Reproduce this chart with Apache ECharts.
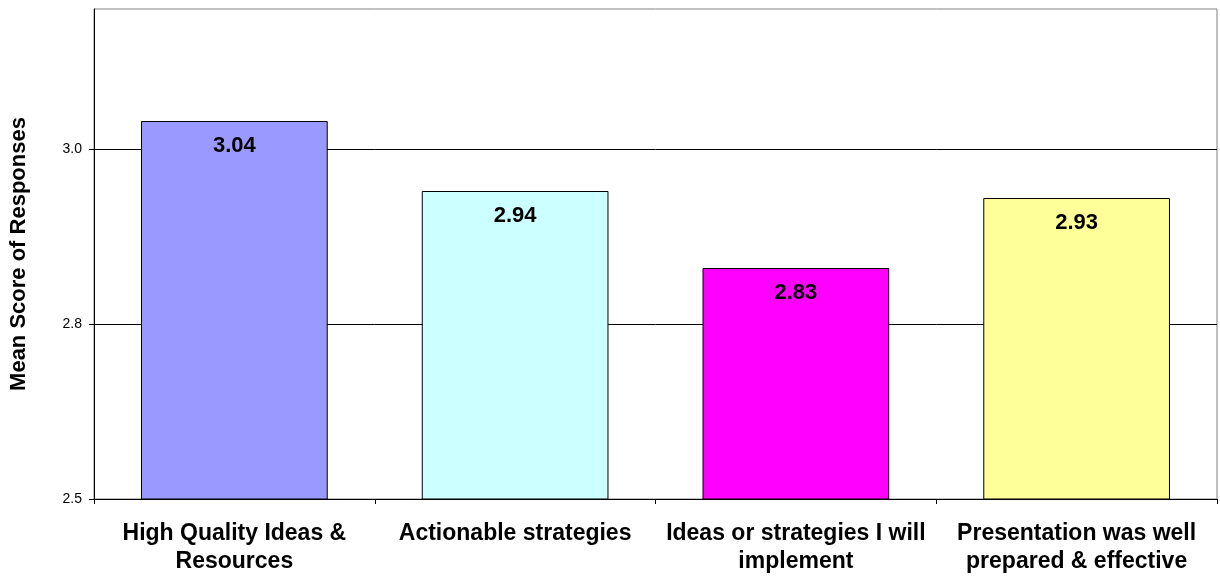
<!DOCTYPE html>
<html>
<head>
<meta charset="utf-8">
<script src="https://cdn.jsdelivr.net/npm/echarts@6/dist/echarts.min.js"></script>
<style>
  html, body { margin: 0; padding: 0; background: #fff; }
  #chart { width: 1220px; height: 576px; }
</style>
</head>
<body>
<div id="chart"></div>
<script>
// Survey items (line breaks set where the labels wrap)
const categories = [
  'High Quality Ideas &\nResources',
  'Actionable strategies',
  'Ideas or strategies I will\nimplement',
  'Presentation was well\nprepared & effective'
];
// Mean score per item
const meanScores = [3.04, 2.94, 2.83, 2.93];
const barColors = ['#9999FF', '#CCFFFF', '#FF00FF', '#FFFF99'];
// Value axis ticks
const yTicks = [2.5, 2.75, 3.0];

const chart = echarts.init(document.getElementById('chart'));
chart.setOption({
  animation: false,
  backgroundColor: '#ffffff',
  textStyle: { fontFamily: 'Liberation Sans, Arial, sans-serif' },
  grid: {
    left: 92, right: 3, top: 9, bottom: 76,
    show: true, borderColor: '#808080', borderWidth: 1, backgroundColor: 'transparent'
  },
  xAxis: {
    type: 'category',
    data: categories,
    axisLine: { lineStyle: { color: '#000', width: 1 } },
    axisTick: { show: true, length: 5, lineStyle: { color: '#000' } },
    axisLabel: {
      color: '#000', fontSize: 23, fontWeight: 'bold', lineHeight: 28,
      margin: 21, interval: 0
    }
  },
  yAxis: {
    type: 'value',
    min: 2.5,
    max: 3.2,
    interval: 0.25,
    name: 'Mean Score of Responses',
    nameLocation: 'middle',
    nameGap: 64,
    nameTextStyle: { color: '#000', fontSize: 22, fontWeight: 'bold' },
    axisLine: { show: true, lineStyle: { color: '#000', width: 1 } },
    axisTick: { show: true, length: 5, customValues: yTicks, lineStyle: { color: '#000' } },
    axisLabel: {
      color: '#000', fontSize: 14, margin: 12, customValues: yTicks,
      formatter: v => v.toFixed(1)
    },
    splitLine: { show: true, lineStyle: { color: '#000', width: 1 } }
  },
  series: [{
    type: 'bar',
    data: meanScores.map((v, i) => ({ value: v, itemStyle: { color: barColors[i] } })),
    barCategoryGap: '33.5%',
    itemStyle: { borderColor: '#000', borderWidth: 1 },
    label: {
      show: true, position: 'insideTop', distance: 14,
      color: '#000', fontSize: 22, fontWeight: 'bold',
      formatter: p => p.value.toFixed(2)
    }
  }]
});
</script>
</body>
</html>
